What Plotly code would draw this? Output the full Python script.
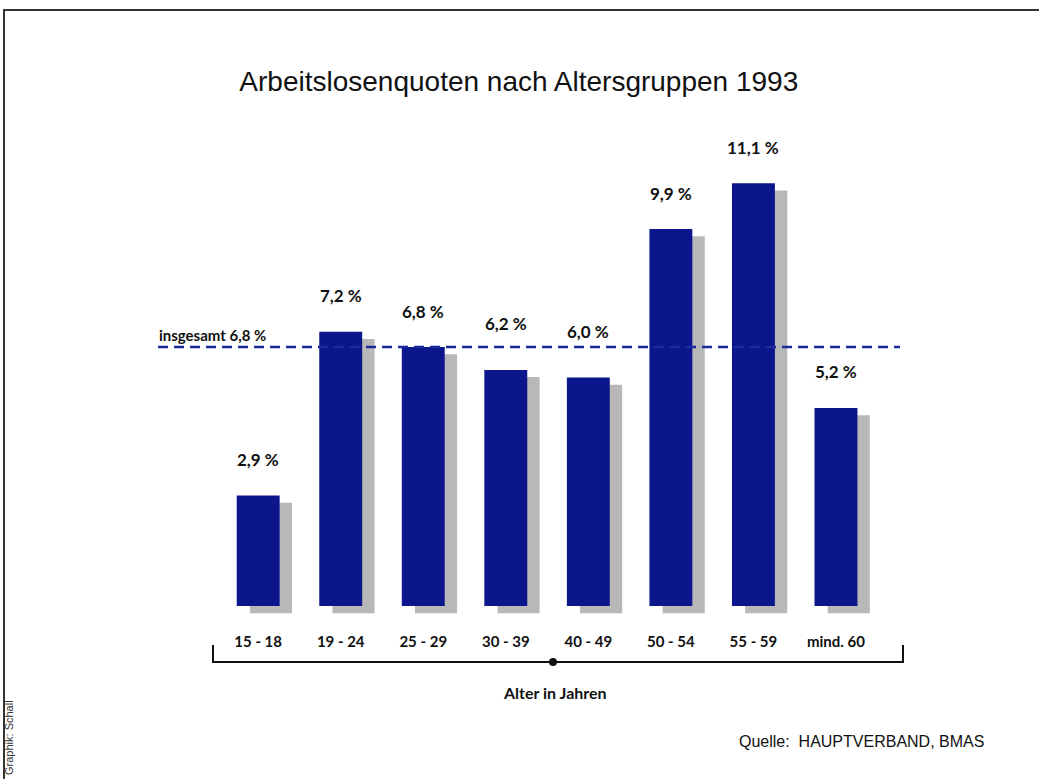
import plotly.graph_objects as go

# data
age_groups = ['15 - 18', '19 - 24', '25 - 29', '30 - 39', '40 - 49', '50 - 54', '55 - 59', 'mind. 60']
rates = [2.9, 7.2, 6.8, 6.2, 6.0, 9.9, 11.1, 5.2]
total_rate = 6.8

BLUE = '#0c168c'
GRAY = '#b8b8b8'
BOLD_FONT = 'Lato'
W, H = 1039, 779
ML, MR, MT, MB = 155, 137, 130, 154
PW, PH = W - ML - MR, H - MT - MB
Y_PER_PX = 13 / PH


def px(x):
    return (x - ML) / PW


def py(y):
    return (H - MB - y) / PH


def fmt(v):
    return f'{v:.1f}'.replace('.', ',') + ' %'


pos = list(range(len(age_groups)))

fig = go.Figure()
# shadow bars
fig.add_trace(go.Bar(x=[p + 0.155 for p in pos], y=rates, base=-0.19, width=0.51,
                     marker=dict(color=GRAY, line=dict(width=0)), hoverinfo='skip'))
# main bars
fig.add_trace(go.Bar(x=pos, y=rates, width=0.52, marker=dict(color=BLUE, line=dict(width=0)),
                     hovertemplate='%{y}<extra></extra>'))

for p, v in zip(pos, rates):
    shift = 36
    # lift labels that would sit on the dashed line
    if abs(v + shift * Y_PER_PX - total_rate) < 0.35:
        shift += 10
    fig.add_annotation(x=p, y=v, text='<b>' + fmt(v) + '</b>', showarrow=False, yshift=shift,
                       font=dict(family=BOLD_FONT, size=17, color='#111'))

# total line
fig.add_shape(type='line', xref='paper', yref='y', x0=px(158), x1=px(900), y0=total_rate, y1=total_rate,
              line=dict(color='#1a2a9a', width=2.5, dash='10px,6px'))
fig.add_annotation(xref='paper', yref='y', x=px(157), y=total_rate, xanchor='left', yanchor='bottom',
                   yshift=1, text='<b>insgesamt ' + fmt(total_rate) + '</b>', showarrow=False,
                   font=dict(family=BOLD_FONT, size=15, color='#111'))

# bracket under the axis
fig.add_shape(type='path', xref='paper', yref='paper',
              path=f'M {px(213)},{py(645)} L {px(213)},{py(662)} L {px(903)},{py(662)} L {px(903)},{py(645)}',
              line=dict(color='#111', width=2))
fig.add_shape(type='circle', xref='paper', yref='paper', x0=px(549), x1=px(557), y0=py(658), y1=py(666),
              fillcolor='#111', line=dict(width=0))
fig.add_annotation(xref='paper', yref='paper', x=px(555), y=py(692), xanchor='center', yanchor='middle',
                   text='<b>Alter in Jahren</b>', showarrow=False,
                   font=dict(family=BOLD_FONT, size=16, color='#111'))

# source and credit
fig.add_annotation(xref='paper', yref='paper', x=px(986), y=py(741), xanchor='right', yanchor='middle',
                   text='Quelle:  HAUPTVERBAND, BMAS', showarrow=False,
                   font=dict(family='Liberation Sans', size=16, color='#111'))
fig.add_annotation(xref='paper', yref='paper', x=px(9), y=py(738), xanchor='center', yanchor='middle',
                   textangle=-90, text='Graphik: Schall', showarrow=False,
                   font=dict(family='Liberation Sans', size=11, color='#333'))

# scan frame
fig.add_shape(type='path', xref='paper', yref='paper',
              path=f'M {px(4)},{py(779)} L {px(4)},{py(10)} L {px(1039)},{py(10)}',
              line=dict(color='#333', width=2))

fig.update_layout(
    width=W, height=H,
    margin=dict(l=ML, r=MR, t=MT, b=MB),
    paper_bgcolor='white', plot_bgcolor='white',
    showlegend=False, barmode='overlay',
    title=dict(text='Arbeitslosenquoten nach Altersgruppen 1993', x=px(528), xanchor='center',
               y=1 - 81 / H, yanchor='middle',
               font=dict(family='Liberation Sans', size=28, color='#111')),
    xaxis=dict(range=[-1.25, 7.8], tickvals=pos, ticktext=['<b>' + a + '</b>' for a in age_groups],
               tickfont=dict(family=BOLD_FONT, size=15, color='#111'), showgrid=False,
               zeroline=False, showline=False, ticks='', ticklabelstandoff=6),
    yaxis=dict(range=[-0.5, 12.5], visible=False, showgrid=False, zeroline=False),
)

fig.write_html('out.html', config={'displayModeBar': False},
               post_script="document.body.style.margin='0';")
